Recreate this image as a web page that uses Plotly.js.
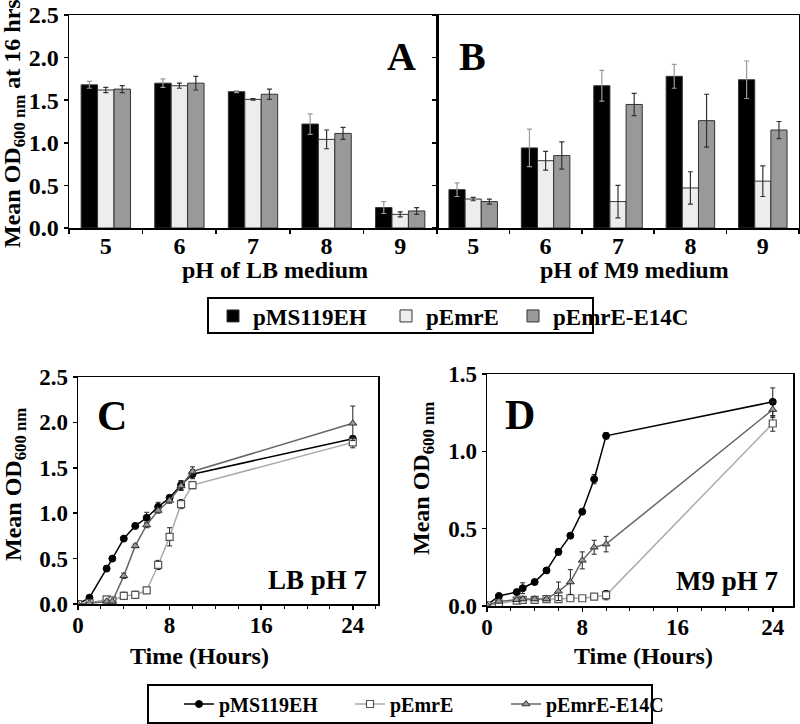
<!DOCTYPE html>
<html><head><meta charset="utf-8">
<script src="https://cdn.plot.ly/plotly-3.0.1.min.js"></script>
<style>html,body{margin:0;padding:0;background:#fff}#chart{width:800px;height:724px}</style>
</head><body><div id="chart"></div>
<script>
// ---- Data ----
const phLabels = ['5', '6', '7', '8', '9'];
const seriesNames = ['pMS119EH', 'pEmrE', 'pEmrE-E14C'];

const lbPMS = [1.68, 1.70, 1.60, 1.22, 0.24];
const lbPMSerr = [0.04, 0.05, 0.01, 0.12, 0.07];
const lbEmrE = [1.62, 1.67, 1.51, 1.04, 0.16];
const lbEmrEerr = [0.03, 0.03, 0.01, 0.11, 0.03];
const lbE14C = [1.63, 1.70, 1.57, 1.11, 0.20];
const lbE14Cerr = [0.04, 0.08, 0.06, 0.07, 0.04];

const m9PMS = [0.45, 0.94, 1.67, 1.78, 1.74];
const m9PMSerr = [0.08, 0.22, 0.18, 0.14, 0.22];
const m9EmrE = [0.34, 0.79, 0.31, 0.47, 0.55];
const m9EmrEerr = [0.02, 0.11, 0.19, 0.19, 0.18];
const m9E14C = [0.31, 0.85, 1.45, 1.26, 1.15];
const m9E14Cerr = [0.03, 0.16, 0.13, 0.31, 0.10];

const hours = [0, 1, 2.5, 3, 4, 5, 6, 7, 8, 9, 10, 24];

const cPMS = [0, 0.07, 0.39, 0.50, 0.72, 0.86, 0.95, 1.07, 1.17, 1.31, 1.43, 1.82];
const cPMSerr = [0, 0.01, 0.01, 0.01, 0.01, 0.03, 0.06, 0.05, 0.02, 0.05, 0.05, 0.03];
const cEmrE = [0, 0.01, 0.05, 0.04, 0.09, 0.10, 0.15, 0.43, 0.74, 1.10, 1.31, 1.78];
const cEmrEerr = [0, 0.01, 0.02, 0.02, 0.04, 0.04, 0.03, 0.05, 0.10, 0.05, 0.04, 0.06];
const cE14C = [0, 0.01, 0.03, 0.03, 0.31, 0.64, 0.87, 1.03, 1.14, 1.30, 1.46, 1.99];
const cE14Cerr = [0, 0, 0.01, 0.01, 0.03, 0.02, 0.03, 0.03, 0.03, 0.05, 0.05, 0.19];

const dPMS = [0.005, 0.065, 0.09, 0.115, 0.155, 0.23, 0.35, 0.455, 0.61, 0.82, 1.10, 1.32];
const dPMSerr = [0, 0.01, 0.01, 0.035, 0.01, 0.015, 0.02, 0.01, 0.01, 0.03, 0.02, 0.09];
const dEmrE = [0.005, 0.015, 0.035, 0.04, 0.04, 0.045, 0.045, 0.05, 0.05, 0.06, 0.07, 1.18];
const dEmrEerr = [0, 0.01, 0.01, 0.02, 0.01, 0.01, 0.01, 0.01, 0.01, 0.01, 0.03, 0.05];
const dE14C = [0.005, 0.03, 0.04, 0.045, 0.045, 0.045, 0.095, 0.155, 0.295, 0.38, 0.40, 1.27];
const dE14Cerr = [0, 0.01, 0.01, 0.01, 0.01, 0.01, 0.06, 0.08, 0.055, 0.045, 0.05, 0.05];

// ---- Styles ----
const FAM = '"Liberation Serif", "Times New Roman", serif';
const W = 800, H = 724;
const px = v => v / W;
const py = v => 1 - v / H;
const bf = (s) => ({family: FAM, size: s, color: '#000', weight: 'bold'});

const barColors = ['#000000', '#ededed', '#999999'];
const barErrColors = ['#9a9a9a', '#333333', '#333333'];

function barTrace(x, y, err, i, xa, ya, show) {
  return {
    type: 'bar', x: x, y: y, name: seriesNames[i], xaxis: xa, yaxis: ya,
    marker: {color: barColors[i], line: {color: '#333', width: 1}},
    error_y: {type: 'data', array: err, visible: true, color: barErrColors[i], thickness: 1.2, width: 2.5},
    showlegend: show, legend: ['legend', 'legend2', 'legend3'][i]
  };
}

const lineStyles = [
  {line: {color: '#000', width: 1.5}, marker: {symbol: 'circle', size: 7, color: '#000', line: {color: '#000', width: 1}}},
  {line: {color: '#aaaaaa', width: 1.5}, marker: {symbol: 'square', size: 7, color: '#fff', line: {color: '#555', width: 1.2}}},
  {line: {color: '#666666', width: 1.5}, marker: {symbol: 'triangle-up', size: 7, color: '#999', line: {color: '#333', width: 1}}}
];

function lineTrace(y, err, i, xa, ya, show) {
  return {
    type: 'scatter', mode: 'lines+markers', x: hours, y: y, name: seriesNames[i], xaxis: xa, yaxis: ya,
    line: lineStyles[i].line, marker: lineStyles[i].marker,
    error_y: {type: 'data', array: err, visible: true, color: '#222', thickness: 1, width: 2.5},
    showlegend: show, legend: ['legend4', 'legend5', 'legend6'][i]
  };
}

const data = [
  barTrace(phLabels, lbPMS, lbPMSerr, 0, 'x', 'y', true),
  barTrace(phLabels, lbEmrE, lbEmrEerr, 1, 'x', 'y', true),
  barTrace(phLabels, lbE14C, lbE14Cerr, 2, 'x', 'y', true),
  barTrace(phLabels, m9PMS, m9PMSerr, 0, 'x2', 'y2', false),
  barTrace(phLabels, m9EmrE, m9EmrEerr, 1, 'x2', 'y2', false),
  barTrace(phLabels, m9E14C, m9E14Cerr, 2, 'x2', 'y2', false),
  lineTrace(cPMS, cPMSerr, 0, 'x3', 'y3', true),
  lineTrace(cEmrE, cEmrEerr, 1, 'x3', 'y3', true),
  lineTrace(cE14C, cE14Cerr, 2, 'x3', 'y3', true),
  lineTrace(dPMS, dPMSerr, 0, 'x4', 'y4', false),
  lineTrace(dEmrE, dEmrEerr, 1, 'x4', 'y4', false),
  lineTrace(dE14C, dE14Cerr, 2, 'x4', 'y4', false)
];

const axBase = {showline: true, linecolor: '#000', linewidth: 1.5, ticks: 'outside', ticklen: 4, tickwidth: 1.5, tickcolor: '#000', showgrid: false, zeroline: false, fixedrange: true};

function legendAt(xLeft, yMid, size) {
  return {x: px(xLeft), y: py(yMid), xanchor: 'left', yanchor: 'middle', orientation: 'h',
    bgcolor: 'rgba(0,0,0,0)', borderwidth: 0, font: bf(size), itemclick: false, itemdoubleclick: false};
}

const layout = {
  width: W, height: H, margin: {l: 0, r: 0, t: 0, b: 0},
  paper_bgcolor: '#fff', plot_bgcolor: '#fff',
  font: bf(20),
  barmode: 'group', bargap: 0.33, bargroupgap: 0,
  xaxis: Object.assign({}, axBase, {domain: [px(69), px(437)], anchor: 'y', type: 'category', tickson: 'boundaries', mirror: true, tickfont: bf(24), ticklabelstandoff: -4}),
  yaxis: Object.assign({}, axBase, {domain: [py(228), py(15)], anchor: 'x', range: [0, 2.5], dtick: 0.5, tickformat: '.1f', mirror: true, tickfont: bf(24)}),
  xaxis2: Object.assign({}, axBase, {domain: [px(437), px(799)], anchor: 'y2', type: 'category', tickson: 'boundaries', mirror: true, tickfont: bf(24), ticklabelstandoff: -4}),
  yaxis2: Object.assign({}, axBase, {domain: [py(228), py(15)], anchor: 'x2', range: [0, 2.5], dtick: 0.5, showticklabels: false, mirror: true}),
  xaxis3: Object.assign({}, axBase, {domain: [px(78), px(378)], anchor: 'y3', range: [0, 26.2], tickvals: [0, 8, 16, 24], mirror: true, tickfont: bf(23), ticklabelstandoff: -4,
    minor: {dtick: 2, ticks: 'outside', ticklen: 3, tickcolor: '#000', tickwidth: 1}}),
  yaxis3: Object.assign({}, axBase, {domain: [py(604), py(377)], anchor: 'x3', range: [0, 2.5], dtick: 0.5, tickformat: '.1f', mirror: true, tickfont: bf(23)}),
  xaxis4: Object.assign({}, axBase, {domain: [px(487), px(793)], anchor: 'y4', range: [0, 25.7], tickvals: [0, 8, 16, 24], mirror: true, tickfont: bf(23), ticklabelstandoff: -4,
    minor: {dtick: 2, ticks: 'outside', ticklen: 3, tickcolor: '#000', tickwidth: 1}}),
  yaxis4: Object.assign({}, axBase, {domain: [py(606), py(374)], anchor: 'x4', range: [0, 1.5], dtick: 0.5, tickformat: '.1f', mirror: true, tickfont: bf(23)}),
  legend: legendAt(213, 316, 23),
  legend2: legendAt(386, 316, 23),
  legend3: legendAt(513, 316, 23),
  legend4: legendAt(179, 704, 20),
  legend5: legendAt(350, 704, 20),
  legend6: legendAt(506, 704, 20),
  shapes: [
    {type: 'rect', xref: 'paper', yref: 'paper', x0: px(208), x1: px(593), y0: py(333), y1: py(298), line: {color: '#000', width: 2}},
    {type: 'rect', xref: 'paper', yref: 'paper', x0: px(148), x1: px(652), y0: py(723), y1: py(685), line: {color: '#000', width: 2}}
  ],
  annotations: [
    {text: 'Mean OD<sub>600 nm</sub> at 16 hrs', xref: 'paper', yref: 'paper', x: px(14), y: py(124), textangle: -90, showarrow: false, font: bf(24), xanchor: 'center', yanchor: 'middle'},
    {text: 'pH of LB medium', xref: 'paper', yref: 'paper', x: px(275), y: py(270), showarrow: false, font: bf(24), xanchor: 'center', yanchor: 'middle'},
    {text: 'pH of M9 medium', xref: 'paper', yref: 'paper', x: px(634), y: py(270), showarrow: false, font: bf(24), xanchor: 'center', yanchor: 'middle'},
    {text: 'A', xref: 'paper', yref: 'paper', x: px(402), y: py(57), showarrow: false, font: bf(40), xanchor: 'center', yanchor: 'middle'},
    {text: 'B', xref: 'paper', yref: 'paper', x: px(472), y: py(56), showarrow: false, font: bf(40), xanchor: 'center', yanchor: 'middle'},
    {text: 'Mean OD<sub>600 nm</sub>', xref: 'paper', yref: 'paper', x: px(15), y: py(485), textangle: -90, showarrow: false, font: bf(24), xanchor: 'center', yanchor: 'middle'},
    {text: 'Mean OD<sub>600 nm</sub>', xref: 'paper', yref: 'paper', x: px(423), y: py(479), textangle: -90, showarrow: false, font: bf(24), xanchor: 'center', yanchor: 'middle'},
    {text: 'Time (Hours)', xref: 'paper', yref: 'paper', x: px(199), y: py(656), showarrow: false, font: bf(24), xanchor: 'center', yanchor: 'middle'},
    {text: 'Time (Hours)', xref: 'paper', yref: 'paper', x: px(643), y: py(656), showarrow: false, font: bf(24), xanchor: 'center', yanchor: 'middle'},
    {text: 'C', xref: 'paper', yref: 'paper', x: px(112), y: py(416), showarrow: false, font: bf(42), xanchor: 'center', yanchor: 'middle'},
    {text: 'D', xref: 'paper', yref: 'paper', x: px(520), y: py(415), showarrow: false, font: bf(42), xanchor: 'center', yanchor: 'middle'},
    {text: 'LB pH 7', xref: 'paper', yref: 'paper', x: px(317), y: py(580), showarrow: false, font: bf(27), xanchor: 'center', yanchor: 'middle'},
    {text: 'M9 pH 7', xref: 'paper', yref: 'paper', x: px(727), y: py(581), showarrow: false, font: bf(27), xanchor: 'center', yanchor: 'middle'}
  ]
};

Plotly.newPlot('chart', data, layout, {displayModeBar: false, staticPlot: true});
</script>
</body></html>
